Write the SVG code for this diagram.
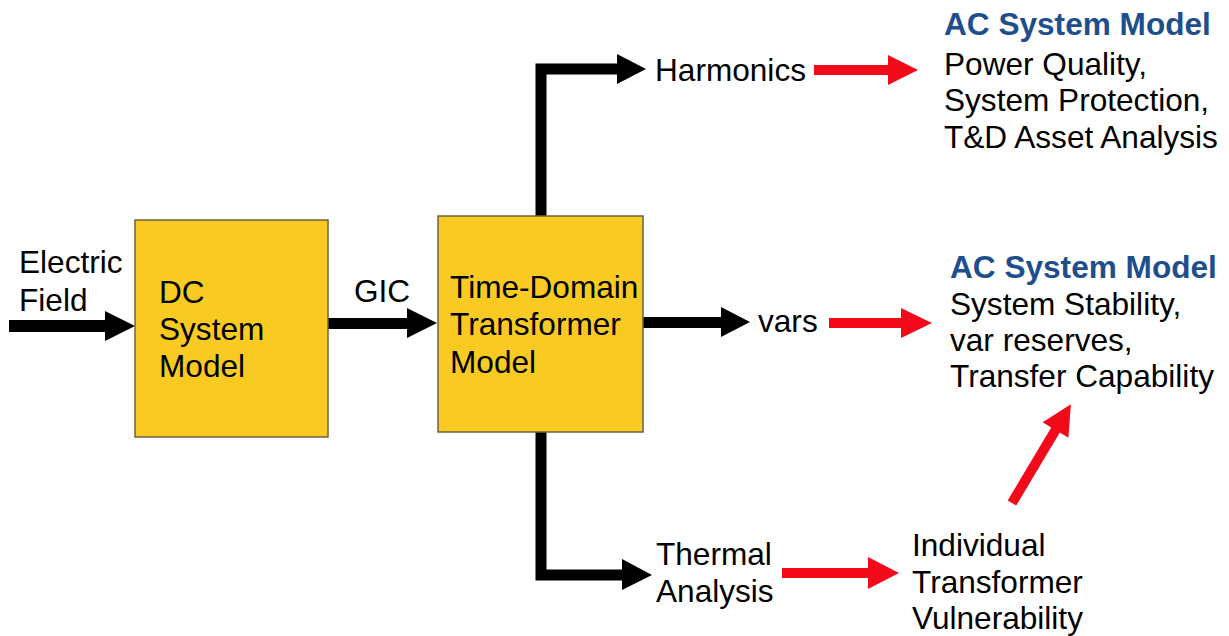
<svg xmlns="http://www.w3.org/2000/svg" width="1229" height="636" viewBox="0 0 1229 636">
<style>
  text { font-family: "Liberation Sans", Arial, sans-serif; font-size: 31.6px; fill: #000; }
  .title { font-weight: bold; fill: #1F4E8D; }
  .box { fill: #F9CB22; stroke: #6E6140; stroke-width: 1.5; }
  .blk { fill: #000; }
  .blkline { fill: none; stroke: #000; stroke-width: 11; stroke-linejoin: miter; stroke-linecap: butt; }
  .red { fill: #F20A1A; }
</style>
<rect width="1229" height="636" fill="#fff"/>
<g id="connectors">
  <polygon class="blk" points="9,320 105,320 105,311 135,326 105,341 105,332 9,332"/>
  <polygon class="blk" points="328,318 407,318 407,308 437,323 407,338 407,329 328,329"/>
  <polyline class="blkline" points="541,216 541,69 618,69"/>
  <polygon class="blk" points="617,54 646,69 617,84"/>
  <polygon class="blk" points="643,317 721,317 721,307 750,322 721,337 721,328 643,328"/>
  <polyline class="blkline" points="541,432 541,575 623,575"/>
  <polygon class="blk" points="622,559 652,575 622,590"/>
  <polygon class="red" points="814,65 888,65 888,55 918,70 888,85 888,75 814,75"/>
  <polygon class="red" points="829,318 901,318 901,308 932,323 901,338 901,328 829,328"/>
  <polygon class="red" points="782,568 868,568 868,557 899,573 868,589 868,578 782,578"/>
  <polygon class="red" transform="translate(1012,503) rotate(-59.2)" points="0,-5 85,-5 85,-15 115,0 85,15 85,5 0,5"/>
</g>
<g id="electric-field">
  <text x="19" y="273">Electric</text>
  <text x="19" y="311">Field</text>
</g>
<g id="dc-system-model">
  <rect class="box" x="135" y="220" width="193" height="217"/>
  <text x="159" y="303">DC</text>
  <text x="159" y="340">System</text>
  <text x="159" y="377">Model</text>
</g>
<g id="gic">
  <text x="354" y="302">GIC</text>
</g>
<g id="transformer-model">
  <rect class="box" x="438" y="216" width="205" height="216"/>
  <text x="450" y="298">Time-Domain</text>
  <text x="450" y="335">Transformer</text>
  <text x="450" y="373">Model</text>
</g>
<g id="harmonics">
  <text x="655" y="81">Harmonics</text>
</g>
<g id="vars">
  <text x="758" y="332">vars</text>
</g>
<g id="thermal-analysis">
  <text x="656" y="565">Thermal</text>
  <text x="656" y="602">Analysis</text>
</g>
<g id="individual-vulnerability">
  <text x="912" y="556">Individual</text>
  <text x="912" y="593">Transformer</text>
  <text x="912" y="629">Vulnerability</text>
</g>
<g id="ac-model-1">
  <text class="title" x="944" y="35">AC System Model</text>
  <text x="944" y="75">Power Quality,</text>
  <text x="944" y="111">System Protection,</text>
  <text x="944" y="148">T&amp;D Asset Analysis</text>
</g>
<g id="ac-model-2">
  <text class="title" x="950" y="278">AC System Model</text>
  <text x="950" y="315">System Stability,</text>
  <text x="950" y="351">var reserves,</text>
  <text x="950" y="387">Transfer Capability</text>
</g>
</svg>
